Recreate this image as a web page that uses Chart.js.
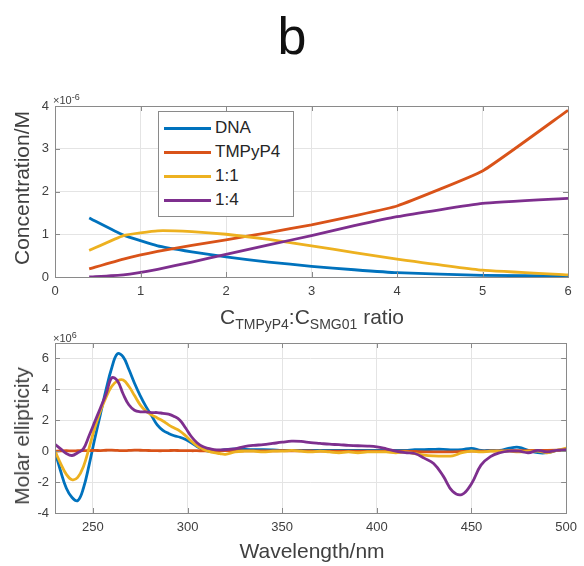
<!DOCTYPE html>
<html>
<head>
<meta charset="utf-8">
<script src="https://cdn.jsdelivr.net/npm/chart.js@4.4.1/dist/chart.umd.min.js"></script>
<style>
  body { margin: 0; width: 584px; height: 566px; position: relative; overflow: hidden; background: #fff;
         font-family: "Liberation Sans", Arial, sans-serif; color: #404040; }
  canvas { position: absolute; left: 0; }
  .lbl { position: absolute; white-space: nowrap; transform: translate(-50%, -50%); z-index: 2; }
  .rot { transform: translate(-50%, -50%) rotate(-90deg); }
  .title { font-size: 21px; }
  .title sub { font-size: 14px; vertical-align: -5px; }
  .exp { position: absolute; font-size: 11px; z-index: 2; }
  .exp sup { font-size: 9px; vertical-align: 4px; }
  #legend { position: absolute; left: 158px; top: 111px; width: 134px; height: 104px; border: 1px solid #8a8a8a;
            background: #fff; z-index: 2; }
  #legend .row { position: absolute; left: 5px; height: 20px; font-size: 17px; color: #262626; line-height: 20px; }
  #legend .row span { display: inline-block; width: 47px; height: 3px; vertical-align: middle; margin-right: 4px; }
</style>
</head>
<body>

<div class="lbl" style="left:292px;top:36px;font-size:52px;color:#111;">b</div>

<canvas id="concChart" width="584" height="225" style="top:80px"></canvas>
<canvas id="cdChart" width="584" height="220" style="top:320px"></canvas>

<div class="exp" style="left:53px;top:92px;">&times;10<sup>-6</sup></div>
<div class="lbl rot title" style="left:22px;top:188px;">Concentration/M</div>
<div class="lbl title" style="left:312px;top:318px;">C<sub>TMPyP4</sub>:C<sub>SMG01</sub> ratio</div>

<div class="exp" style="left:53px;top:330px;">&times;10<sup>6</sup></div>
<div class="lbl rot title" style="left:22px;top:436px;">Molar ellipticity</div>
<div class="lbl title" style="left:312px;top:551px;">Wavelength/nm</div>

<div id="legend"></div>

<script>
// ---- datos: panel superior (concentraciones) ----
const ratios = [0.4, 0.8, 1.2, 1.6, 2, 2.5, 3, 3.5, 4, 5, 6];
const concDNA     = [1.38, 0.98, 0.73, 0.59, 0.47, 0.35, 0.25, 0.17, 0.10, 0.04, 0.02];
const concTMPyP4  = [0.19, 0.42, 0.60, 0.74, 0.87, 1.04, 1.22, 1.43, 1.66, 2.48, 3.90];
const conc11      = [0.62, 0.97, 1.08, 1.06, 1.00, 0.88, 0.73, 0.57, 0.42, 0.16, 0.05];
const conc14      = [0.00, 0.05, 0.18, 0.35, 0.53, 0.75, 0.97, 1.20, 1.41, 1.72, 1.84];

// ---- datos: panel inferior (CD) ----
const wavelengths = [230, 233, 236, 239, 242, 245, 248, 251, 254, 257, 260, 263, 266, 269, 272, 275,
  278, 281, 284, 287, 290, 293, 296, 299, 302, 305, 308, 311, 314, 317, 320,
  325, 330, 335, 340, 345, 350, 355, 360, 365, 370, 375, 380, 385, 390, 395, 400, 405, 410, 415,
  420, 425, 430, 435, 440, 445, 450, 455, 460, 465, 470, 475, 480, 485, 490, 495, 500];
const cdDNA = [0, -1.3, -2.4, -3.0, -3.2, -2.4, -0.9, 0.8, 2.4, 4.0, 5.4, 6.3, 6.1, 5.3, 4.4, 3.6,
  2.9, 2.3, 1.7, 1.35, 1.15, 1.0, 0.9, 0.75, 0.55, 0.3, 0.1, 0.0, 0.0, 0.05, 0.1,
  0.15, 0.12, 0.1, 0.1, 0.08, 0.05, 0.05, 0.05, 0.05, 0.05, 0.05, 0.05, 0.05, 0.05, 0.05, 0.05, 0.05, 0.05, 0.05,
  0.1, 0.1, 0.12, 0.12, 0.08, 0.1, 0.18, 0.05, 0.05, 0.05, 0.2, 0.25, 0.05, -0.1, -0.1, 0.05, 0.1];
const cdTMPyP4 = [0, 0.02, 0.03, 0.02, 0.03, 0.04, 0.04, 0.05, 0.04, 0.06, 0.07, 0.05, 0.03, 0.05, 0.07, 0.06,
  0.05, 0.04, 0.03, 0.03, 0.04, 0.05, 0.04, 0.04, 0.03, 0.03, 0.02, 0.02, 0.02, 0.03, 0.03,
  0.03, 0.02, 0.02, 0.02, 0.02, 0.03, 0.02, 0.02, 0.02, 0.0, 0.0, 0.0, 0.0, 0.0, 0.0, 0.0, 0.0, 0.0, 0.0,
  -0.02, -0.04, -0.05, -0.05, -0.04, -0.02, 0.0, 0.0, 0.02, 0.02, 0.03, 0.03, 0.04, 0.05, 0.05, 0.06, 0.08];
const cd11 = [0, -0.8, -1.5, -1.85, -1.7, -1.0, 0.2, 1.5, 2.6, 3.5, 4.2, 4.55, 4.6, 4.2, 3.6, 3.0,
  2.6, 2.35, 2.15, 1.95, 1.7, 1.5, 1.3, 1.0, 0.65, 0.35, 0.15, 0.0, -0.1, -0.15, -0.2,
  -0.05, 0.0, 0.0, -0.05, 0.0, 0.0, 0.05, 0.0, -0.05, 0.0, -0.05, -0.1, -0.05, -0.1, -0.05, -0.05, -0.05, -0.1, -0.05,
  -0.15, -0.25, -0.3, -0.32, -0.3, -0.1, 0.0, -0.05, 0.0, 0.0, 0.0, -0.05, 0.0, 0.0, -0.1, 0.05, 0.2];
const cd14 = [0.45, 0.15, -0.15, -0.28, -0.1, 0.15, 1.0, 1.9, 2.8, 3.7, 4.75, 4.55, 3.7, 3.0, 2.65, 2.55,
  2.55, 2.5, 2.5, 2.45, 2.4, 2.25, 2.0, 1.5, 0.95, 0.55, 0.3, 0.18, 0.1, 0.08, 0.1,
  0.15, 0.3, 0.38, 0.42, 0.5, 0.58, 0.65, 0.63, 0.55, 0.5, 0.45, 0.42, 0.38, 0.35, 0.33, 0.28, 0.15, 0.0, -0.1,
  -0.15, -0.45, -0.8, -1.6, -2.6, -2.8, -2.1, -0.9, -0.35, -0.1, 0.0, 0.0, -0.1, 0.05, -0.05, 0.05, 0.1];

const seriesNames = ['DNA', 'TMPyP4', '1:1', '1:4'];
const seriesColors = ['#0072BD', '#D95319', '#EDB120', '#7E2F8E'];

// leyenda HTML
document.getElementById('legend').innerHTML = seriesNames.map((n, i) =>
  `<div class="row" style="top:${6 + i * 24}px"><span style="background:${seriesColors[i]}"></span>${n}</div>`
).join('');

// caja de ejes y marcas hacia dentro (estilo MATLAB)
const boxPlugin = {
  id: 'box',
  afterDatasetsDraw(chart) {
    const { ctx, chartArea: a, scales: { x, y } } = chart;
    ctx.save();
    ctx.strokeStyle = '#8a8a8a';
    ctx.lineWidth = 1;
    ctx.strokeRect(Math.round(a.left) + 0.5, Math.round(a.top) + 0.5, Math.round(a.right - a.left), Math.round(a.bottom - a.top));
    ctx.beginPath();
    x.ticks.forEach(t => {
      const px = Math.round(x.getPixelForValue(t.value)) + 0.5;
      ctx.moveTo(px, a.bottom); ctx.lineTo(px, a.bottom - 5);
      ctx.moveTo(px, a.top); ctx.lineTo(px, a.top + 5);
    });
    y.ticks.forEach(t => {
      const py = Math.round(y.getPixelForValue(t.value)) + 0.5;
      ctx.moveTo(a.left, py); ctx.lineTo(a.left + 5, py);
      ctx.moveTo(a.right, py); ctx.lineTo(a.right - 5, py);
    });
    ctx.stroke();
    ctx.restore();
  }
};

const tickFont = { family: 'Liberation Sans', size: 13 };

function makeOptions(xr, yr, padTop, xHeight) {
  return {
    responsive: false,
    animation: false,
    layout: { padding: { top: padTop, right: 16, left: 0, bottom: 0 } },
    plugins: { legend: { display: false }, tooltip: { enabled: false } },
    elements: { point: { radius: 0 } },
    scales: {
      x: {
        type: 'linear', min: xr[0], max: xr[1],
        ticks: { stepSize: xr[2], color: '#404040', font: tickFont, padding: 7, maxRotation: 0 },
        afterBuildTicks: s => { s.ticks = s.ticks.filter(t => t.value % xr[2] === 0); },
        afterFit: s => { s.height = xHeight; },
        grid: { color: '#e4e4e4', drawTicks: false },
        border: { display: false }
      },
      y: {
        min: yr[0], max: yr[1],
        ticks: { stepSize: yr[2], color: '#404040', font: tickFont, padding: 6 },
        afterBuildTicks: s => { s.ticks = s.ticks.filter(t => t.value % yr[2] === 0); },
        afterFit: s => { s.width = 55; },
        grid: { color: '#e4e4e4', drawTicks: false },
        border: { display: false }
      }
    }
  };
}

function buildSets(xs, list, tension) {
  return list.map((vals, i) => ({
    label: seriesNames[i],
    data: xs.map((x, k) => ({ x: x, y: vals[k] })),
    borderColor: seriesColors[i],
    borderWidth: 2.8,
    tension: tension,
    fill: false,
    order: 4 - i
  }));
}

// panel superior
new Chart(document.getElementById('concChart'), {
  type: 'line',
  data: { datasets: buildSets(ratios, [concDNA, concTMPyP4, conc11, conc14], 0.12) },
  options: makeOptions([0, 6, 1], [0, 4, 1], 26, 28),
  plugins: [boxPlugin]
});

// panel inferior
new Chart(document.getElementById('cdChart'), {
  type: 'line',
  data: { datasets: buildSets(wavelengths, [cdDNA, cdTMPyP4, cd11, cd14], 0.4) },
  options: makeOptions([230, 500, 50], [-4, 7, 2], 23, 27),
  plugins: [boxPlugin]
});
</script>
</body>
</html>
